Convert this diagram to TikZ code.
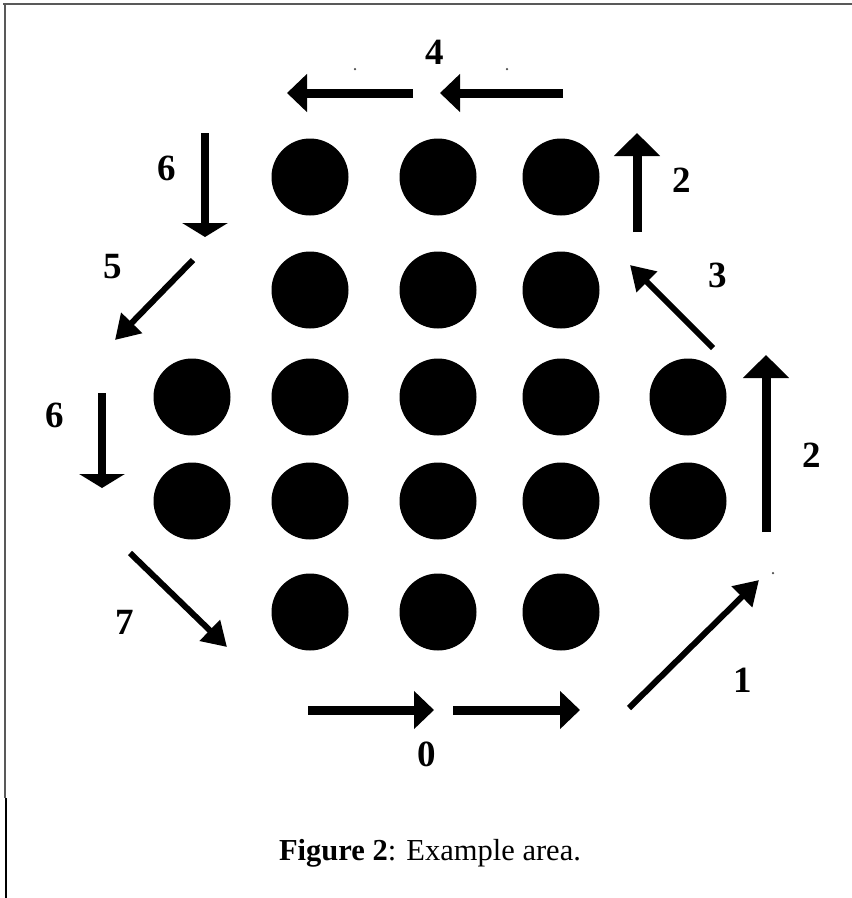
\documentclass[tikz,border=0pt]{standalone}
\usepackage{fontspec}
\setmainfont{Liberation Serif}
\usetikzlibrary{arrows.meta}
\begin{document}
\begin{tikzpicture}[x=1pt,y=-1pt,
  dot/.style={circle,fill=black,inner sep=0pt,minimum size=77pt},
  lbl/.style={font=\fontsize{37}{37}\selectfont\bfseries,inner sep=0pt},
  harrow/.style={line width=9pt,-{Triangle[width=37pt,length=20pt]}},
  uarrow/.style={line width=9pt,-{Triangle[width=45pt,length=23pt]}},
  darrow/.style={line width=8pt,-{Triangle[width=45pt,length=14pt]}},
  diagarrow/.style={line width=6pt,-{Triangle[width=28pt,length=24pt]}},
  speck/.style={circle,fill=black!70,inner sep=0pt,minimum size=2.5pt}]
\useasboundingbox (0,0) rectangle (852,898);
% frame
\draw[black!65,line width=1.6pt] (3,4) -- (852,4);
\draw[black!65,line width=1.6pt] (5,3) -- (5,798);
\draw[black,line width=2.6pt] (6,798) -- (6,898);
% dots
\foreach \n/\x/\y in {a1/310/177,a2/438/177,a3/561/177,
  b1/310/290,b2/438/290,b3/561/290,
  c1/192/397,c2/310/397,c3/438/397,c4/561/397,c5/688/397,
  d1/192/501,d2/310/501,d3/438/501,d4/561/501,d5/688/501,
  e1/310/612,e2/438/612,e3/561/612}
  \node[dot] (\n) at (\x,\y) {};
% arrow end points
\coordinate (f4as) at (413,93);  \coordinate (f4ae) at (287,93);
\coordinate (f4bs) at (563,93);  \coordinate (f4be) at (440,93);
\coordinate (f2ts) at (637,232); \coordinate (f2te) at (637,133);
\coordinate (f3s) at (713,348);  \coordinate (f3e) at (630,265);
\coordinate (f2rs) at (766,532); \coordinate (f2re) at (766,355);
\coordinate (f1s) at (629,708);  \coordinate (f1e) at (759,580);
\coordinate (f0as) at (308,710); \coordinate (f0ae) at (434,710);
\coordinate (f0bs) at (453,710); \coordinate (f0be) at (580,710);
\coordinate (f7s) at (130,553);  \coordinate (f7e) at (227,647);
\coordinate (f6ls) at (102,393); \coordinate (f6le) at (102,488);
\coordinate (f5s) at (193,260);  \coordinate (f5e) at (115,340);
\coordinate (f6us) at (205,133); \coordinate (f6ue) at (205,237);
\draw[harrow] (f4as) -- (f4ae);
\draw[harrow] (f4bs) -- (f4be);
\draw[uarrow] (f2ts) -- (f2te);
\draw[diagarrow] (f3s) -- (f3e);
\draw[uarrow] (f2rs) -- (f2re);
\draw[diagarrow] (f1s) -- (f1e);
\draw[harrow] (f0as) -- (f0ae);
\draw[harrow] (f0bs) -- (f0be);
\draw[diagarrow] (f7s) -- (f7e);
\draw[darrow] (f6ls) -- (f6le);
\draw[diagarrow] (f5s) -- (f5e);
\draw[darrow] (f6us) -- (f6ue);
% specks
\node[speck] (s1) at (355,69) {};
\node[speck] (s2) at (507,69) {};
\node[speck] (s3) at (773,573) {};
% labels
\node[lbl] (l4) at (435,52) {4};
\node[lbl] (l2t) at (682,180) {2};
\node[lbl] (l3) at (718,275) {3};
\node[lbl] (l2r) at (812,455) {2};
\node[lbl] (l1) at (743,680) {1};
\node[lbl] (l0) at (427,754) {0};
\node[lbl] (l7) at (125,622) {7};
\node[lbl] (l6l) at (55,415) {6};
\node[lbl] (l5) at (113,267) {5};
\node[lbl] (l6u) at (167,168) {6};
% caption
\node[font=\fontsize{30.5}{30.5}\selectfont,inner sep=0pt] (cap) at (430,853) {\textbf{Figure 2}: Example area.};
\end{tikzpicture}
\end{document}
